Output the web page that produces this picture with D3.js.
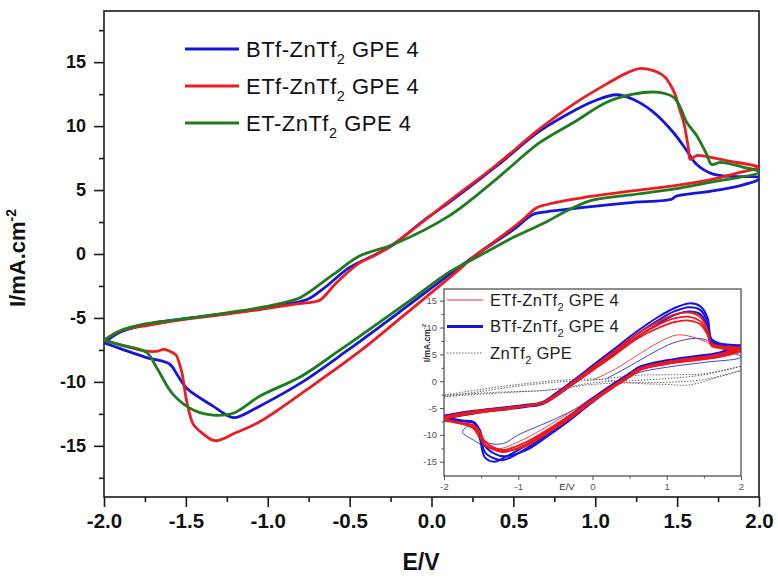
<!DOCTYPE html>
<html><head><meta charset="utf-8">
<script src="https://cdn.jsdelivr.net/npm/d3@7"></script>
<style>
body{margin:0;background:#fff;}
svg{display:block;font-family:"Liberation Sans",Arial,Helvetica,sans-serif;}
</style></head><body>
<svg id="chart" width="778" height="578"></svg>
<script>
// ---------------- main chart data (E / V , I / mA.cm-2) ----------------
const xTicks = [-2, -1.5, -1, -0.5, 0, 0.5, 1, 1.5, 2];
const xMinor = [-1.75, -1.25, -0.75, -0.25, 0.25, 0.75, 1.25, 1.75];
const yTicks = [-15, -10, -5, 0, 5, 10, 15];
const yMinor = [-17.5, -12.5, -7.5, -2.5, 2.5, 7.5, 12.5, 17.5];

const seriesNames = ["BTf-ZnTf|2| GPE 4", "ETf-ZnTf|2| GPE 4", "ET-ZnTf|2| GPE 4"];

const blueUpper = [[-2,-6.95],[-1.9,-6.1],[-1.74,-5.5],[-1.5,-5.05],[-1.25,-4.65],[-1.05,-4.3],[-0.85,-3.85],[-0.75,-3.5],[-0.65,-2.6],[-0.5,-1.05],[-0.35,-0.1],[-0.23,0.76],[-0.05,2.6],[0.11,4.05],[0.4,6.9],[0.66,9.6],[0.87,11.2],[1.0,12.0],[1.13,12.45],[1.23,12.1],[1.355,11.1],[1.477,9.5],[1.558,8.1],[1.62,7.0],[1.72,6.25],[1.88,6.05],[2.0,6.0]];
const blueLower = [[2.0,5.85],[1.88,5.33],[1.7,4.9],[1.49,4.5],[1.47,4.3],[1.2,4.0],[0.9,3.6],[0.7,3.3],[0.62,3.1],[0.5,1.9],[0.28,0],[0.11,-1.6],[-0.16,-4.2],[-0.52,-7.6],[-0.8,-10.1],[-1.05,-11.9],[-1.2,-12.8],[-1.25,-12.6],[-1.334,-11.9],[-1.495,-10.5],[-1.55,-9.5],[-1.6,-8.6],[-1.74,-8.1],[-1.9,-7.4],[-2,-6.95]];

const redUpper = [[-2,-6.75],[-1.9,-6.0],[-1.74,-5.6],[-1.5,-5.1],[-1.25,-4.7],[-1.05,-4.35],[-0.85,-3.95],[-0.72,-3.75],[-0.68,-3.6],[-0.58,-2.25],[-0.44,-0.7],[-0.33,0.0],[-0.23,0.8],[0.11,4.16],[0.4,7.0],[0.66,9.78],[0.87,11.74],[1.07,13.3],[1.2,14.2],[1.27,14.5],[1.365,14.3],[1.42,13.9],[1.456,13.3],[1.487,12.5],[1.518,11.2],[1.542,10.2],[1.568,8.34],[1.58,7.4],[1.6,7.55],[1.62,7.7],[1.8,7.3],[2.0,6.8]];
const redLower = [[2.0,6.75],[1.884,6.38],[1.7,5.8],[1.477,5.33],[1.2,4.9],[0.866,4.29],[0.7,3.85],[0.64,3.6],[0.55,2.6],[0.45,1.6],[0.28,0],[0.11,-1.85],[-0.16,-4.7],[-0.437,-7.6],[-0.75,-10.5],[-1.047,-13.1],[-1.2,-14.0],[-1.322,-14.6],[-1.4,-14.0],[-1.455,-13.3],[-1.495,-11.5],[-1.526,-9.2],[-1.56,-7.9],[-1.577,-7.74],[-1.62,-7.5],[-1.64,-7.45],[-1.67,-7.6],[-1.74,-7.6],[-1.9,-7.1],[-2,-6.75]];

const greenUpper = [[-2,-6.75],[-1.9,-6.0],[-1.74,-5.45],[-1.5,-5.05],[-1.25,-4.6],[-1.05,-4.2],[-0.9,-3.8],[-0.8,-3.4],[-0.6,-1.6],[-0.44,-0.16],[-0.23,0.76],[0.11,3.0],[0.4,5.9],[0.66,8.7],[0.87,10.3],[1.07,11.87],[1.232,12.5],[1.375,12.65],[1.477,12.26],[1.518,11.5],[1.558,10.3],[1.62,9.25],[1.68,7.8],[1.711,7.0],[1.762,7.16],[1.9,6.8],[2.0,6.45]];
const greenLower = [[2.0,6.35],[1.7,5.6],[1.477,5.07],[1.2,4.6],[0.968,4.16],[0.8,3.2],[0.7,2.5],[0.5,1.3],[0.27,-0.3],[0.11,-1.4],[-0.16,-3.9],[-0.569,-7.6],[-0.8,-9.6],[-1.047,-11.1],[-1.21,-12.45],[-1.334,-12.6],[-1.455,-12.2],[-1.577,-11.0],[-1.678,-8.9],[-1.74,-7.7],[-1.9,-7.1],[-2,-6.75]];

// ---------------- inset data ----------------
const insetXTicks = [-2, -1, 0, 1, 2];
const insetXMinor = [-1.5, -0.5, 0.5, 1.5];
const insetYTicks = [-15, -10, -5, 0, 5, 10, 15];
const insetYMinor = [-12.5, -7.5, -2.5, 2.5, 7.5, 12.5];
const insetNames = ["ETf-ZnTf|2| GPE 4", "BTf-ZnTf|2| GPE 4", "ZnTf|2| GPE"];

const insetUpE  = [-2,-1.6,-1.2,-0.9,-0.68,-0.5,-0.3,0,0.3,0.6,0.9,1.1,1.3,1.45,1.55,1.6,1.7,2];
const insetLowE = [2,1.7,1.4,1.0,0.65,0.5,0.3,0,-0.3,-0.6,-0.9,-1.2,-1.32,-1.45,-1.52,-1.6,-1.75,-2];

const insetBlueUpA = [-6.4,-5.5,-4.9,-4.4,-3.9,-2.3,-0.3,2.9,6.1,9.3,12.1,13.6,14.5,14.0,11.8,7.9,7.1,6.7];
const insetBlueLowA = [6.7,5.3,4.7,3.9,2.8,1.5,-0.3,-3.2,-6.3,-9.2,-12.0,-14.3,-15.0,-14.2,-10.5,-7.8,-7.5,-6.6];
const insetBlueUpB = [-6.7,-5.8,-5.1,-4.6,-4.1,-2.6,-0.6,2.5,5.6,8.8,11.5,13.0,13.8,13.3,11.0,7.6,6.8,6.3];
const insetBlueLowB = [6.3,5.0,4.4,3.6,2.5,1.2,-0.6,-3.6,-6.8,-9.8,-12.6,-14.7,-14.4,-13.2,-9.5,-7.6,-7.3,-6.8];
const insetBlueUpC = [-7.0,-6.0,-5.3,-4.8,-4.3,-2.9,-0.9,2.1,5.1,8.2,10.8,12.3,13.0,12.5,10.2,7.2,6.5,5.9];
const insetBlueLowC = [5.9,4.6,4.1,3.3,2.2,0.9,-0.9,-3.9,-7.2,-10.2,-12.9,-14.0,-13.5,-12.0,-9.0,-7.6,-7.4,-7.0];

const insetRedUpA = [-6.6,-5.6,-5.0,-4.5,-4.0,-2.5,-0.5,2.6,5.7,8.8,11.2,12.4,12.8,12.0,9.5,7.0,6.6,6.3];
const insetRedLowA = [6.3,5.0,4.4,3.6,2.5,1.2,-0.6,-3.4,-6.3,-9.0,-11.4,-12.8,-12.4,-11.2,-9.4,-8.2,-7.8,-7.0];
const insetRedUpB = [-6.8,-5.8,-5.2,-4.6,-4.1,-2.7,-0.7,2.3,5.3,8.3,10.6,11.7,12.0,11.2,9.0,6.8,6.4,6.0];
const insetRedLowB = [6.0,4.8,4.2,3.4,2.3,1.0,-0.8,-3.6,-6.6,-9.3,-11.8,-13.2,-12.8,-11.8,-9.8,-8.5,-7.9,-7.2];
const insetRedUpC = [-7.0,-6.0,-5.3,-4.7,-4.2,-2.9,-0.9,2.0,4.9,7.9,10.0,11.0,11.3,10.6,8.6,6.6,6.2,5.6];
const insetRedLowC = [5.6,4.5,4.0,3.2,2.1,0.8,-1.0,-3.8,-6.9,-9.6,-12.1,-13.0,-12.6,-12.0,-10.2,-8.8,-8.0,-7.4];

const insetRedFirst = [[0,0.2],[0.3,2.2],[0.6,4.8],[0.9,7.3],[1.13,8.6],[1.3,8.4],[1.5,7.5],[1.7,6.3],[2,5.5],[1.5,4.0],[1.0,3.2],[0.65,2.4],[0.3,-0.3],[0,-3.0],[-0.5,-7.5],[-1.0,-11.3],[-1.3,-12.6],[-1.5,-11.0],[-1.6,-9.0],[-1.7,-8.0],[-2,-7.3]];
const insetBlueFirst = [[0.19,0.5],[0.5,2.8],[0.8,5.2],[1.1,7.2],[1.4,8.0],[1.55,7.6],[1.7,6.3],[2,4.5],[1.5,3.5],[1.0,2.6],[0.6,1.5],[0.3,-0.5],[0,-3.5],[-0.5,-7.0],[-1.0,-10.0],[-1.2,-11.6],[-1.4,-11.5],[-1.55,-9.8],[-1.65,-8.2],[-1.75,-9.5],[-1.6,-11.0],[-1.45,-12.2]];

const insetGrayA = [[-2,-2.9],[-1.5,-1.9],[-1,-0.9],[-0.5,-0.2],[0,0.2],[0.6,1.1],[1.0,1.2],[1.5,1.4],[2,2.8],[1.5,1.2],[1.0,0.5],[0.5,0.1],[0,-0.3],[-0.5,-1.5],[-1,-2.0],[-1.5,-2.4],[-2,-2.9]];
const insetGrayB = [[-2,-2.6],[-1.5,-1.5],[-1,-0.6],[-0.5,0.1],[0,0.4],[0.6,-0.4],[1.0,-0.6],[1.3,-0.7],[1.7,0.8],[2,2.0],[1.5,0.3],[1.0,-0.2],[0.5,-0.3],[0,-0.6],[-0.62,-1.7],[-1.2,-2.0],[-2,-2.6]];

// ---------------- drawing ----------------
const W = 778, H = 578;
const FONT = '"Liberation Sans",Arial,Helvetica,sans-serif';
const svg = d3.select("#chart");
svg.append("rect").attr("width", W).attr("height", H).attr("fill", "#fff");

const colors = {blue: "#1515dc", red: "#ec1c22", green: "#1d7c1d"};

const x = d3.scaleLinear().domain([-2, 2]).range([104, 759]);
const y = d3.scaleLinear().domain([-19, 19]).range([497, 11]);

const line = d3.line().x(d => x(d[0])).y(d => y(d[1])).curve(d3.curveCatmullRom.alpha(0.5));

// axes
const axisColor = "#1a1a1a";
function styleAxis(g) {
  g.select(".domain").remove();
  g.selectAll("line").attr("stroke", axisColor).attr("stroke-width", 1.6);
}
svg.append("g").attr("transform", "translate(104,0)")
  .call(d3.axisLeft(y).tickValues(yMinor).tickSize(5).tickFormat(""))
  .call(styleAxis);
const yAx = svg.append("g").attr("transform", "translate(104,0)")
  .call(d3.axisLeft(y).tickValues(yTicks).tickSize(10).tickPadding(8).tickFormat(d => String(d)))
  .call(styleAxis);
yAx.selectAll("text").attr("font-family", FONT).attr("font-size", 18).attr("font-weight", "bold").attr("fill", "#111");

svg.append("g").attr("transform", "translate(0,497)")
  .call(d3.axisBottom(x).tickValues(xMinor).tickSize(5).tickFormat(""))
  .call(styleAxis);
const xAx = svg.append("g").attr("transform", "translate(0,497)")
  .call(d3.axisBottom(x).tickValues(xTicks).tickSize(10).tickPadding(6).tickFormat(d => d.toFixed(1)))
  .call(styleAxis);
xAx.selectAll("text").attr("font-family", FONT).attr("font-size", 20.5).attr("font-weight", "bold").attr("fill", "#111");

// frame
svg.append("rect").attr("x", 104).attr("y", 11).attr("width", 655).attr("height", 486)
  .attr("fill", "none").attr("stroke", axisColor).attr("stroke-width", 1.6);

// curves
const mainSeries = [
  {pts: blueUpper.concat(blueLower), c: colors.blue},
  {pts: redUpper.concat(redLower), c: colors.red},
  {pts: greenUpper.concat(greenLower), c: colors.green}
];
svg.append("defs").append("clipPath").attr("id", "mainClip")
  .append("rect").attr("x", 104).attr("y", 11).attr("width", 655).attr("height", 486);
svg.append("g").attr("clip-path", "url(#mainClip)").selectAll("path").data(mainSeries).join("path")
  .attr("d", d => line(d.pts)).attr("fill", "none").attr("stroke", d => d.c)
  .attr("stroke-width", 2.8).attr("stroke-linejoin", "round");

// text with subscript helper ("A|2|B")
function richText(sel, str, subFs, dy) {
  const parts = str.split("|");
  sel.append("tspan").text(parts[0]);
  sel.append("tspan").text(parts[1]).attr("font-size", subFs).attr("dy", dy);
  sel.append("tspan").text(parts[2]).attr("dy", -dy);
}

// main legend
const legColors = [colors.blue, colors.red, colors.green];
seriesNames.forEach((name, i) => {
  const ly = 49 + i * 37;
  svg.append("line").attr("x1", 185).attr("x2", 239).attr("y1", ly).attr("y2", ly)
    .attr("stroke", legColors[i]).attr("stroke-width", 3);
  const t = svg.append("text").attr("x", 246).attr("y", ly + 7.5)
    .attr("font-family", FONT).attr("font-size", 22).attr("letter-spacing", 0.5).attr("fill", "#111");
  richText(t, name, 14.5, 7);
});

// axis titles
const yt = svg.append("text").attr("transform", "translate(25,258) rotate(-90)")
  .attr("text-anchor", "middle").attr("font-family", FONT).attr("font-size", 22)
  .attr("font-weight", "bold").attr("fill", "#111");
yt.append("tspan").text("I/mA.cm");
yt.append("tspan").text("-2").attr("font-size", 14).attr("dy", -9);
svg.append("text").attr("x", 421).attr("y", 570).attr("text-anchor", "middle")
  .attr("font-family", FONT).attr("font-size", 23).attr("font-weight", "bold").attr("fill", "#111").text("E/V");

// ---------------- inset ----------------
const ix = d3.scaleLinear().domain([-2, 2]).range([444, 741]);
const iy = d3.scaleLinear().domain([-17.66, 17.18]).range([476, 289]);
const iline = d3.line().x(d => ix(d[0])).y(d => iy(d[1])).curve(d3.curveCatmullRom.alpha(0.5));
const inset = svg.append("g");
inset.append("rect").attr("x", 444).attr("y", 289).attr("width", 297).attr("height", 187).attr("fill", "#fff");

const insetColor = "#555";
function styleInset(g) {
  g.select(".domain").remove();
  g.selectAll("line").attr("stroke", insetColor).attr("stroke-width", 1);
  g.selectAll("text").attr("font-family", FONT).attr("font-size", 9.5).attr("fill", "#555");
}
inset.append("g").attr("transform", "translate(444,0)")
  .call(d3.axisLeft(iy).tickValues(insetYMinor).tickSize(2.5).tickFormat("")).call(styleInset);
inset.append("g").attr("transform", "translate(444,0)")
  .call(d3.axisLeft(iy).tickValues(insetYTicks).tickSize(4).tickPadding(3).tickFormat(d => String(d))).call(styleInset);
inset.append("g").attr("transform", "translate(0,476)")
  .call(d3.axisBottom(ix).tickValues(insetXMinor).tickSize(2.5).tickFormat("")).call(styleInset);
inset.append("g").attr("transform", "translate(0,476)")
  .call(d3.axisBottom(ix).tickValues(insetXTicks).tickSize(4).tickPadding(3).tickFormat(d => String(d))).call(styleInset);

function loop(upE, up, lowE, low) {
  return upE.map((e, i) => [e, up[i]]).concat(lowE.map((e, i) => [e, low[i]]));
}
const insetClip = svg.select("defs").append("clipPath").attr("id", "insetClip");
insetClip.append("rect").attr("x", 444).attr("y", 289).attr("width", 297).attr("height", 187);
const ic = inset.append("g").attr("clip-path", "url(#insetClip)");

const grayLoops = [insetGrayA, insetGrayB];
ic.selectAll("path.gray").data(grayLoops).join("path").attr("class", "gray")
  .attr("d", iline).attr("fill", "none").attr("stroke", "#555").attr("stroke-width", 0.9)
  .attr("stroke-dasharray", "1.5,1.5");

const blueLoops = [
  loop(insetUpE, insetBlueUpA, insetLowE, insetBlueLowA),
  loop(insetUpE, insetBlueUpB, insetLowE, insetBlueLowB),
  loop(insetUpE, insetBlueUpC, insetLowE, insetBlueLowC)
];
const redLoops = [
  loop(insetUpE, insetRedUpA, insetLowE, insetRedLowA),
  loop(insetUpE, insetRedUpB, insetLowE, insetRedLowB),
  loop(insetUpE, insetRedUpC, insetLowE, insetRedLowC)
];
ic.selectAll("path.bf").data([insetBlueFirst]).join("path").attr("class", "bf")
  .attr("d", iline).attr("fill", "none").attr("stroke", "#2a2ae0").attr("stroke-width", 0.9);
ic.selectAll("path.rf").data([insetRedFirst]).join("path").attr("class", "rf")
  .attr("d", iline).attr("fill", "none").attr("stroke", "#f03030").attr("stroke-width", 0.9);
ic.selectAll("path.blue").data(blueLoops).join("path").attr("class", "blue")
  .attr("d", iline).attr("fill", "none").attr("stroke", "#1414e6").attr("stroke-width", 2);
ic.selectAll("path.red").data(redLoops).join("path").attr("class", "red")
  .attr("d", iline).attr("fill", "none").attr("stroke", "#f01818").attr("stroke-width", 1.8);

inset.append("rect").attr("x", 444).attr("y", 289).attr("width", 297).attr("height", 187)
  .attr("fill", "none").attr("stroke", "#444").attr("stroke-width", 1.2);

// inset legend
const insetLeg = [
  {c: "#f03030", w: 1, dash: null},
  {c: "#1414e6", w: 3, dash: null},
  {c: "#666", w: 1, dash: "1.5,1.5"}
];
insetNames.forEach((name, i) => {
  const ly = 300 + i * 26.5;
  inset.append("line").attr("x1", 447).attr("x2", 483).attr("y1", ly).attr("y2", ly)
    .attr("stroke", insetLeg[i].c).attr("stroke-width", insetLeg[i].w)
    .attr("stroke-dasharray", insetLeg[i].dash);
  const t = inset.append("text").attr("x", 490).attr("y", ly + 5.5)
    .attr("font-family", FONT).attr("font-size", 16.5).attr("letter-spacing", 0.3).attr("fill", "#222");
  richText(t, name, 11, 5);
});

inset.append("text").attr("x", 567).attr("y", 490).attr("text-anchor", "middle")
  .attr("font-family", FONT).attr("font-size", 9.5).attr("fill", "#333").text("E/V");
const iyt = inset.append("text").attr("transform", "translate(430,343) rotate(-90)")
  .attr("text-anchor", "middle").attr("font-family", FONT).attr("font-size", 8.5)
  .attr("font-weight", "bold").attr("fill", "#333");
iyt.append("tspan").text("I/mA.cm");
iyt.append("tspan").text("-2").attr("font-size", 6).attr("dy", -4);
</script>
</body></html>
